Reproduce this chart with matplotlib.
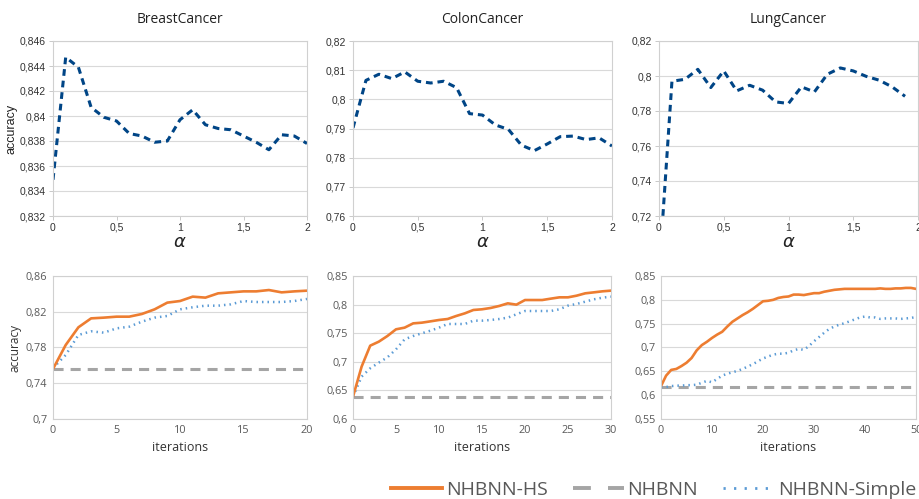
import numpy as np
import matplotlib.pyplot as plt
from matplotlib.ticker import FuncFormatter, MultipleLocator

# ---- alpha sweep (top row) ----
alpha = [0.0, 0.1, 0.2, 0.3, 0.4, 0.5, 0.6, 0.7, 0.8, 0.9, 1.0,
         1.1, 1.2, 1.3, 1.4, 1.5, 1.6, 1.7, 1.8, 1.9, 2.0]
breast_alpha = [0.8349, 0.8447, 0.8439, 0.8407, 0.8399, 0.8396, 0.8386, 0.8384, 0.8379, 0.8380, 0.8397,
                0.8405, 0.8393, 0.8390, 0.8389, 0.8384, 0.8379, 0.8373, 0.8385, 0.8384, 0.8378]
colon_alpha = [0.7902, 0.8065, 0.8086, 0.8071, 0.8094, 0.8062, 0.8056, 0.8062, 0.8040, 0.7951, 0.7946,
               0.7912, 0.7897, 0.7843, 0.7824, 0.7847, 0.7872, 0.7874, 0.7862, 0.7868, 0.7840]
lung_alpha = [0.687, 0.797, 0.7981, 0.8038, 0.7934, 0.8029, 0.7915, 0.7947, 0.7919, 0.7852, 0.7843,
              0.7938, 0.7909, 0.8010, 0.8046, 0.8029, 0.7998, 0.7976, 0.7938, 0.7884]

# ---- iterations (bottom row) ----
breast_hs = [0.756, 0.7828, 0.8026, 0.8126, 0.8134, 0.8145, 0.8145, 0.8175, 0.8227, 0.8302, 0.8320,
             0.8369, 0.8358, 0.8406, 0.8417, 0.8428, 0.8428, 0.8443, 0.8417, 0.8428, 0.8436]
breast_simple = [0.757, 0.7716, 0.7940, 0.7981, 0.7966, 0.8014, 0.8033, 0.8089, 0.8134, 0.8153, 0.8227,
                 0.8250, 0.8268, 0.8268, 0.8283, 0.8320, 0.8309, 0.8309, 0.8309, 0.8320, 0.8343]
breast_base = 0.756

colon_hs = [0.639, 0.6915, 0.7282, 0.7352, 0.7451, 0.7568, 0.7597, 0.7672, 0.7684, 0.7707, 0.7731,
            0.7748, 0.7801, 0.7847, 0.7906, 0.7918, 0.7941, 0.7976, 0.8022, 0.7999, 0.8080,
            0.8080, 0.8080, 0.8104, 0.8127, 0.8127, 0.8156, 0.8197, 0.8214, 0.8232, 0.8244]
colon_simple = [0.639, 0.674, 0.6886, 0.6985, 0.7078, 0.7218, 0.7393, 0.7451, 0.7498, 0.7544, 0.7597,
                0.7661, 0.7661, 0.7661, 0.7719, 0.7719, 0.7731, 0.7748, 0.7772, 0.7830, 0.7888,
                0.7888, 0.7888, 0.7888, 0.7918, 0.7982, 0.8011, 0.8051, 0.8092, 0.8121, 0.8139]
colon_base = 0.638

lung_hs = [0.619, 0.641, 0.653, 0.655, 0.661, 0.668, 0.678, 0.694, 0.705, 0.712, 0.720,
           0.727, 0.733, 0.744, 0.754, 0.761, 0.768, 0.774, 0.781, 0.789, 0.797,
           0.798, 0.800, 0.804, 0.806, 0.807, 0.811, 0.811, 0.810, 0.812, 0.814,
           0.814, 0.817, 0.819, 0.821, 0.822, 0.823, 0.823, 0.823, 0.823, 0.823,
           0.823, 0.823, 0.824, 0.823, 0.823, 0.824, 0.824, 0.825, 0.825, 0.823]
lung_simple = [0.617, 0.617, 0.619, 0.620, 0.620, 0.621, 0.621, 0.622, 0.626, 0.630, 0.627,
               0.634, 0.641, 0.645, 0.648, 0.651, 0.655, 0.660, 0.665, 0.671, 0.677,
               0.681, 0.685, 0.687, 0.687, 0.689, 0.694, 0.697, 0.695, 0.703, 0.713,
               0.722, 0.731, 0.739, 0.744, 0.748, 0.751, 0.755, 0.759, 0.763, 0.765,
               0.763, 0.763, 0.760, 0.761, 0.761, 0.761, 0.760, 0.761, 0.762, 0.764]
lung_base = 0.617

titles = ['BreastCancer', 'ColonCancer', 'LungCancer']

ORANGE = '#ED7D31'
GRAY = '#A5A5A5'
BLUE = '#5B9BD5'
DARKBLUE = '#004586'

comma = FuncFormatter(lambda v, p: '{:g}'.format(round(v, 4)).replace('.', ','))

fig = plt.figure(figsize=(9.2, 4.99), dpi=100)

W = 920.0
H = 499.0


def add_ax(x0, x1, y0, y1):
    return fig.add_axes([x0 / W, 1 - y1 / H, (x1 - x0) / W, (y1 - y0) / H])


def style(ax, tick_color, family, size):
    for s in ax.spines.values():
        s.set_color('#d0d0d0')
        s.set_linewidth(0.8)
    ax.grid(axis='y', color='#d9d9d9', linewidth=0.8)
    ax.set_axisbelow(True)
    ax.tick_params(colors=tick_color, labelsize=size, length=3, width=0.6,
                   pad=2)
    ax.tick_params(axis='both', color='#c0c0c0')
    for lab in ax.get_xticklabels() + ax.get_yticklabels():
        lab.set_fontfamily(family)
    ax.xaxis.set_major_formatter(comma)
    ax.yaxis.set_major_formatter(comma)


# top row
top_pos = [(53, 307), (353, 612), (659, 918)]
top_data = [(alpha, breast_alpha, (0.832, 0.846), 0.002),
            (alpha, colon_alpha, (0.76, 0.82), 0.01),
            (alpha[:20], lung_alpha, (0.72, 0.82), 0.02)]
for i, ((x0, x1), (xs, ys, yl, step)) in enumerate(zip(top_pos, top_data)):
    ax = add_ax(x0, x1, 41, 216)
    ax.plot(xs, ys, color=DARKBLUE, linewidth=2.2, linestyle=(0, (2.2, 1.6)))
    ax.set_xlim(0, 2)
    ax.set_ylim(*yl)
    ax.xaxis.set_major_locator(MultipleLocator(0.5))
    ax.set_yticks(np.arange(yl[0], yl[1] + step / 2, step))
    style(ax, '#333333', 'Liberation Sans', 7.5)
    ax.set_xlabel(r'$\alpha$', fontsize=13, labelpad=0, color='#222222')
    ax.set_title(titles[i], fontsize=10, fontfamily='Open Sans', color='#222222', pad=13)
    if i == 0:
        ax.set_ylabel('accuracy', fontsize=9, fontfamily='Liberation Sans', color='#222222', labelpad=2)

# bottom row
bot_pos = [(53, 307), (353, 611), (661, 916)]
bot_data = [(breast_hs, breast_simple, breast_base, (0.7, 0.86), 0.04, 5),
            (colon_hs, colon_simple, colon_base, (0.6, 0.85), 0.05, 5),
            (lung_hs, lung_simple, lung_base, (0.55, 0.85), 0.05, 10)]
for i, ((x0, x1), (hs, simple, base, yl, ystep, xstep)) in enumerate(zip(bot_pos, bot_data)):
    ax = add_ax(x0, x1, 276, 419)
    it = np.arange(len(hs))
    ax.plot(it, [base] * len(it), color=GRAY, linewidth=2.2, linestyle=(0, (3.3, 2.3)))
    ax.plot(it, simple, color=BLUE, linewidth=1.8, linestyle=(0, (0.6, 1.6)))
    ax.plot(it, hs, color=ORANGE, linewidth=1.9)
    ax.set_xlim(0, len(hs) - 1)
    ax.set_ylim(*yl)
    ax.xaxis.set_major_locator(MultipleLocator(xstep))
    ax.set_yticks(np.arange(yl[0], yl[1] + ystep / 2, ystep))
    style(ax, '#595959', 'Open Sans', 7.8)
    ax.tick_params(length=0, pad=4)
    ax.set_xlabel('iterations', fontsize=9, fontfamily='Open Sans', color='#333333', labelpad=4)
    if i == 0:
        ax.set_ylabel('accuracy', fontsize=8.5, fontfamily='Open Sans', color='#333333', labelpad=3)

# legend
h1, = fig.axes[3].plot([], [], color=ORANGE, linewidth=2.8)
h2, = fig.axes[3].plot([], [], color=GRAY, linewidth=2.8, linestyle=(0, (4.6, 4.4)))
h3, = fig.axes[3].plot([], [], color=BLUE, linewidth=2.0, linestyle=(0, (0.8, 3.0)))
leg = fig.legend([h1, h2, h3], ['NHBNN-HS', 'NHBNN', 'NHBNN-Simple'],
                 loc='center right', bbox_to_anchor=(916 / W, 1 - 490 / H), ncol=3, frameon=False,
                 handlelength=2.6, handletextpad=0.2, columnspacing=1.3,
                 borderaxespad=0, borderpad=0,
                 prop={'family': 'Open Sans', 'size': 14.0})
for t in leg.get_texts():
    t.set_color('#595959')

fig.savefig('out.png', dpi=100, facecolor='white')
